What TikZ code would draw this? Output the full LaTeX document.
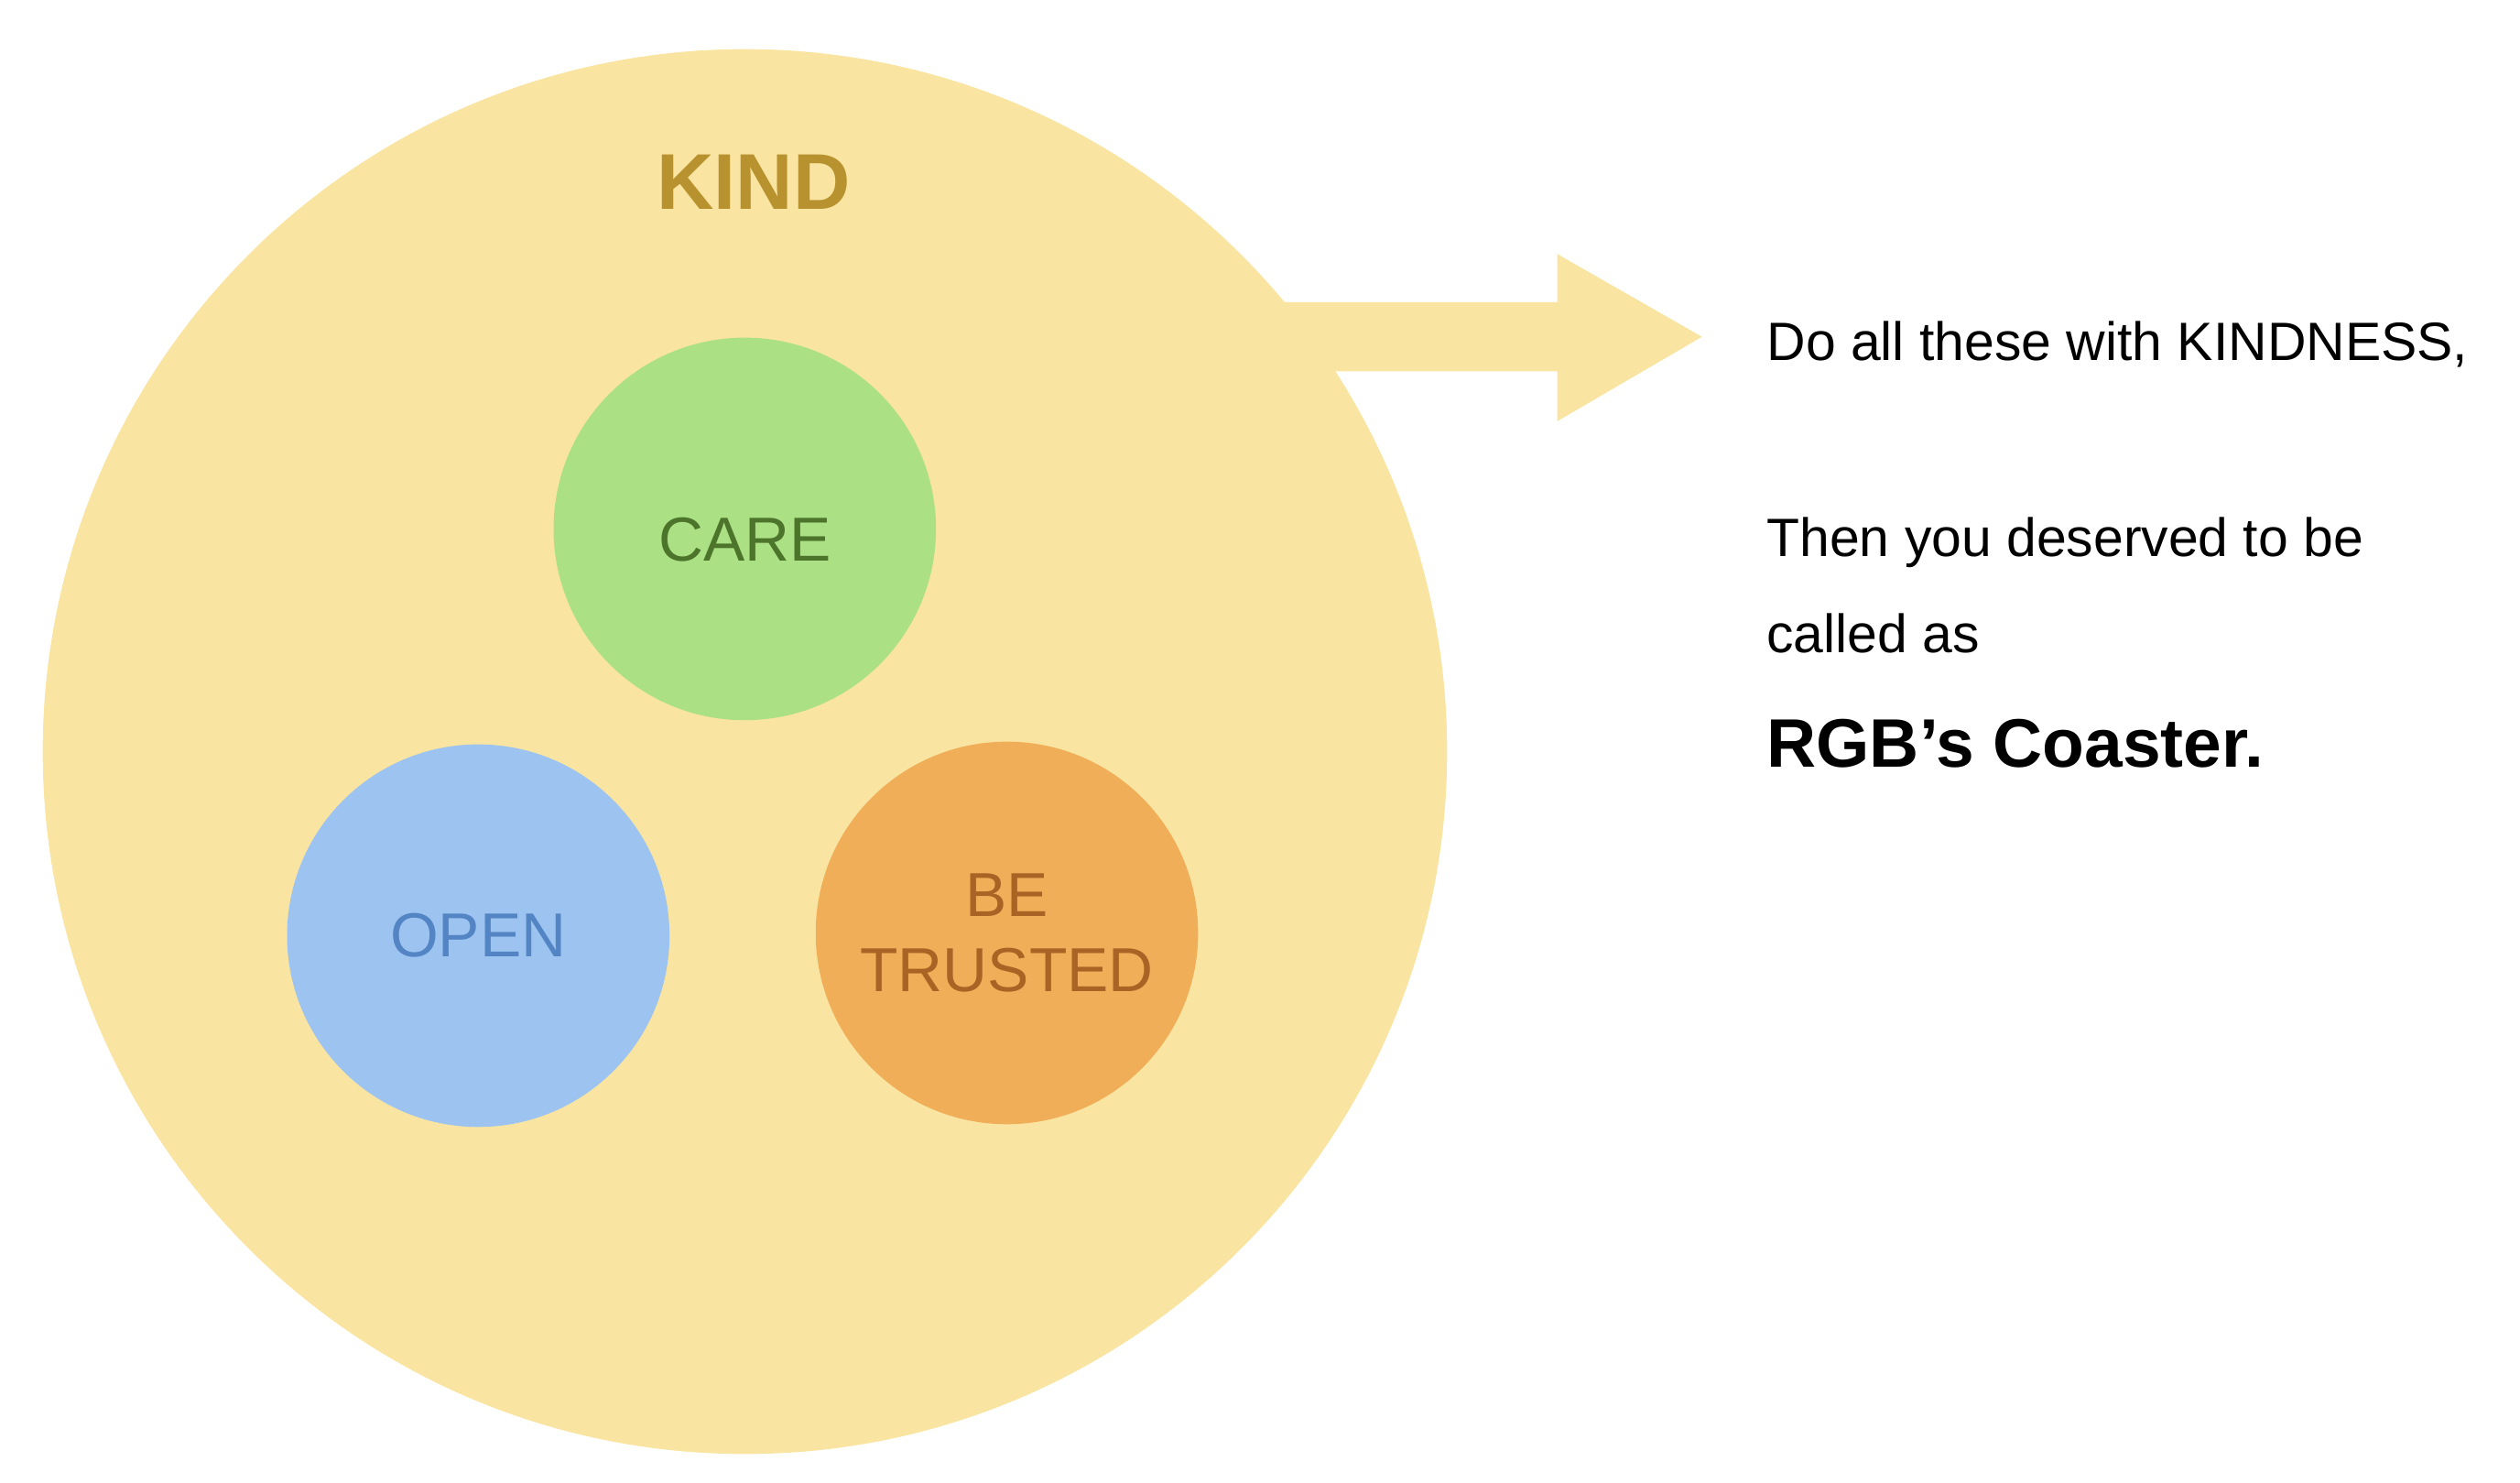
\documentclass[tikz,border=0pt]{standalone}
\usepackage{fontspec}
\setmainfont{Liberation Sans}
\definecolor{kindfill}{HTML}{F9E4A1}
\definecolor{kindtext}{HTML}{B8922F}
\definecolor{carefill}{HTML}{ABE184}
\definecolor{caretext}{HTML}{4D742B}
\definecolor{openfill}{HTML}{9DC4F1}
\definecolor{opentext}{HTML}{5385C4}
\definecolor{trustfill}{HTML}{F0AE58}
\definecolor{trusttext}{HTML}{A86325}
\begin{document}
\begin{tikzpicture}[x=0.02cm,y=-0.02cm,
		bubble/.style={circle,inner sep=0pt,minimum size=4.76cm,align=center,font=\fontsize{22}{26.5}\selectfont},
		textline/.style={anchor=base west,inner sep=0pt,font=\fontsize{19.1}{23}\selectfont}]
		\useasboundingbox (0,0) rectangle (1568,922);
		\node[circle,fill=kindfill,inner sep=0pt,minimum size=17.48cm] (kind) at (463.5,467.5) {};
		\coordinate (arrowtip) at (1059,209.5);
		\fill[kindfill] (arrowtip) --++(-90,-51.5) --++(0,30) --++(-300,0) --++(0,43) --++(300,0) --++(0,31) -- cycle;
		\node[anchor=base,inner sep=0pt,text=kindtext,font=\bfseries\fontsize{28}{32}\selectfont] (kindlabel) at (469,130) {KIND};
		\node[bubble,fill=carefill,text=caretext,text height=22.5pt,text depth=0pt] (care) at (463.4,329) {CARE};
		\node[bubble,fill=openfill,text=opentext] (open) at (297.6,582) {OPEN};
		\node[bubble,fill=trustfill,text=trusttext] (trusted) at (626.5,580.3) {BE\\TRUSTED};
		\node[textline] (line1) at (1099,224) {Do all these with KINDNESS,};
		\node[textline] (line2) at (1099,346) {Then you deserved to be};
		\node[textline] (line3) at (1099,406) {called as};
		\node[textline,font=\bfseries\fontsize{24.3}{29}\selectfont] (line4) at (1099,477) {RGB’s Coaster.};
	\end{tikzpicture}
\end{document}
